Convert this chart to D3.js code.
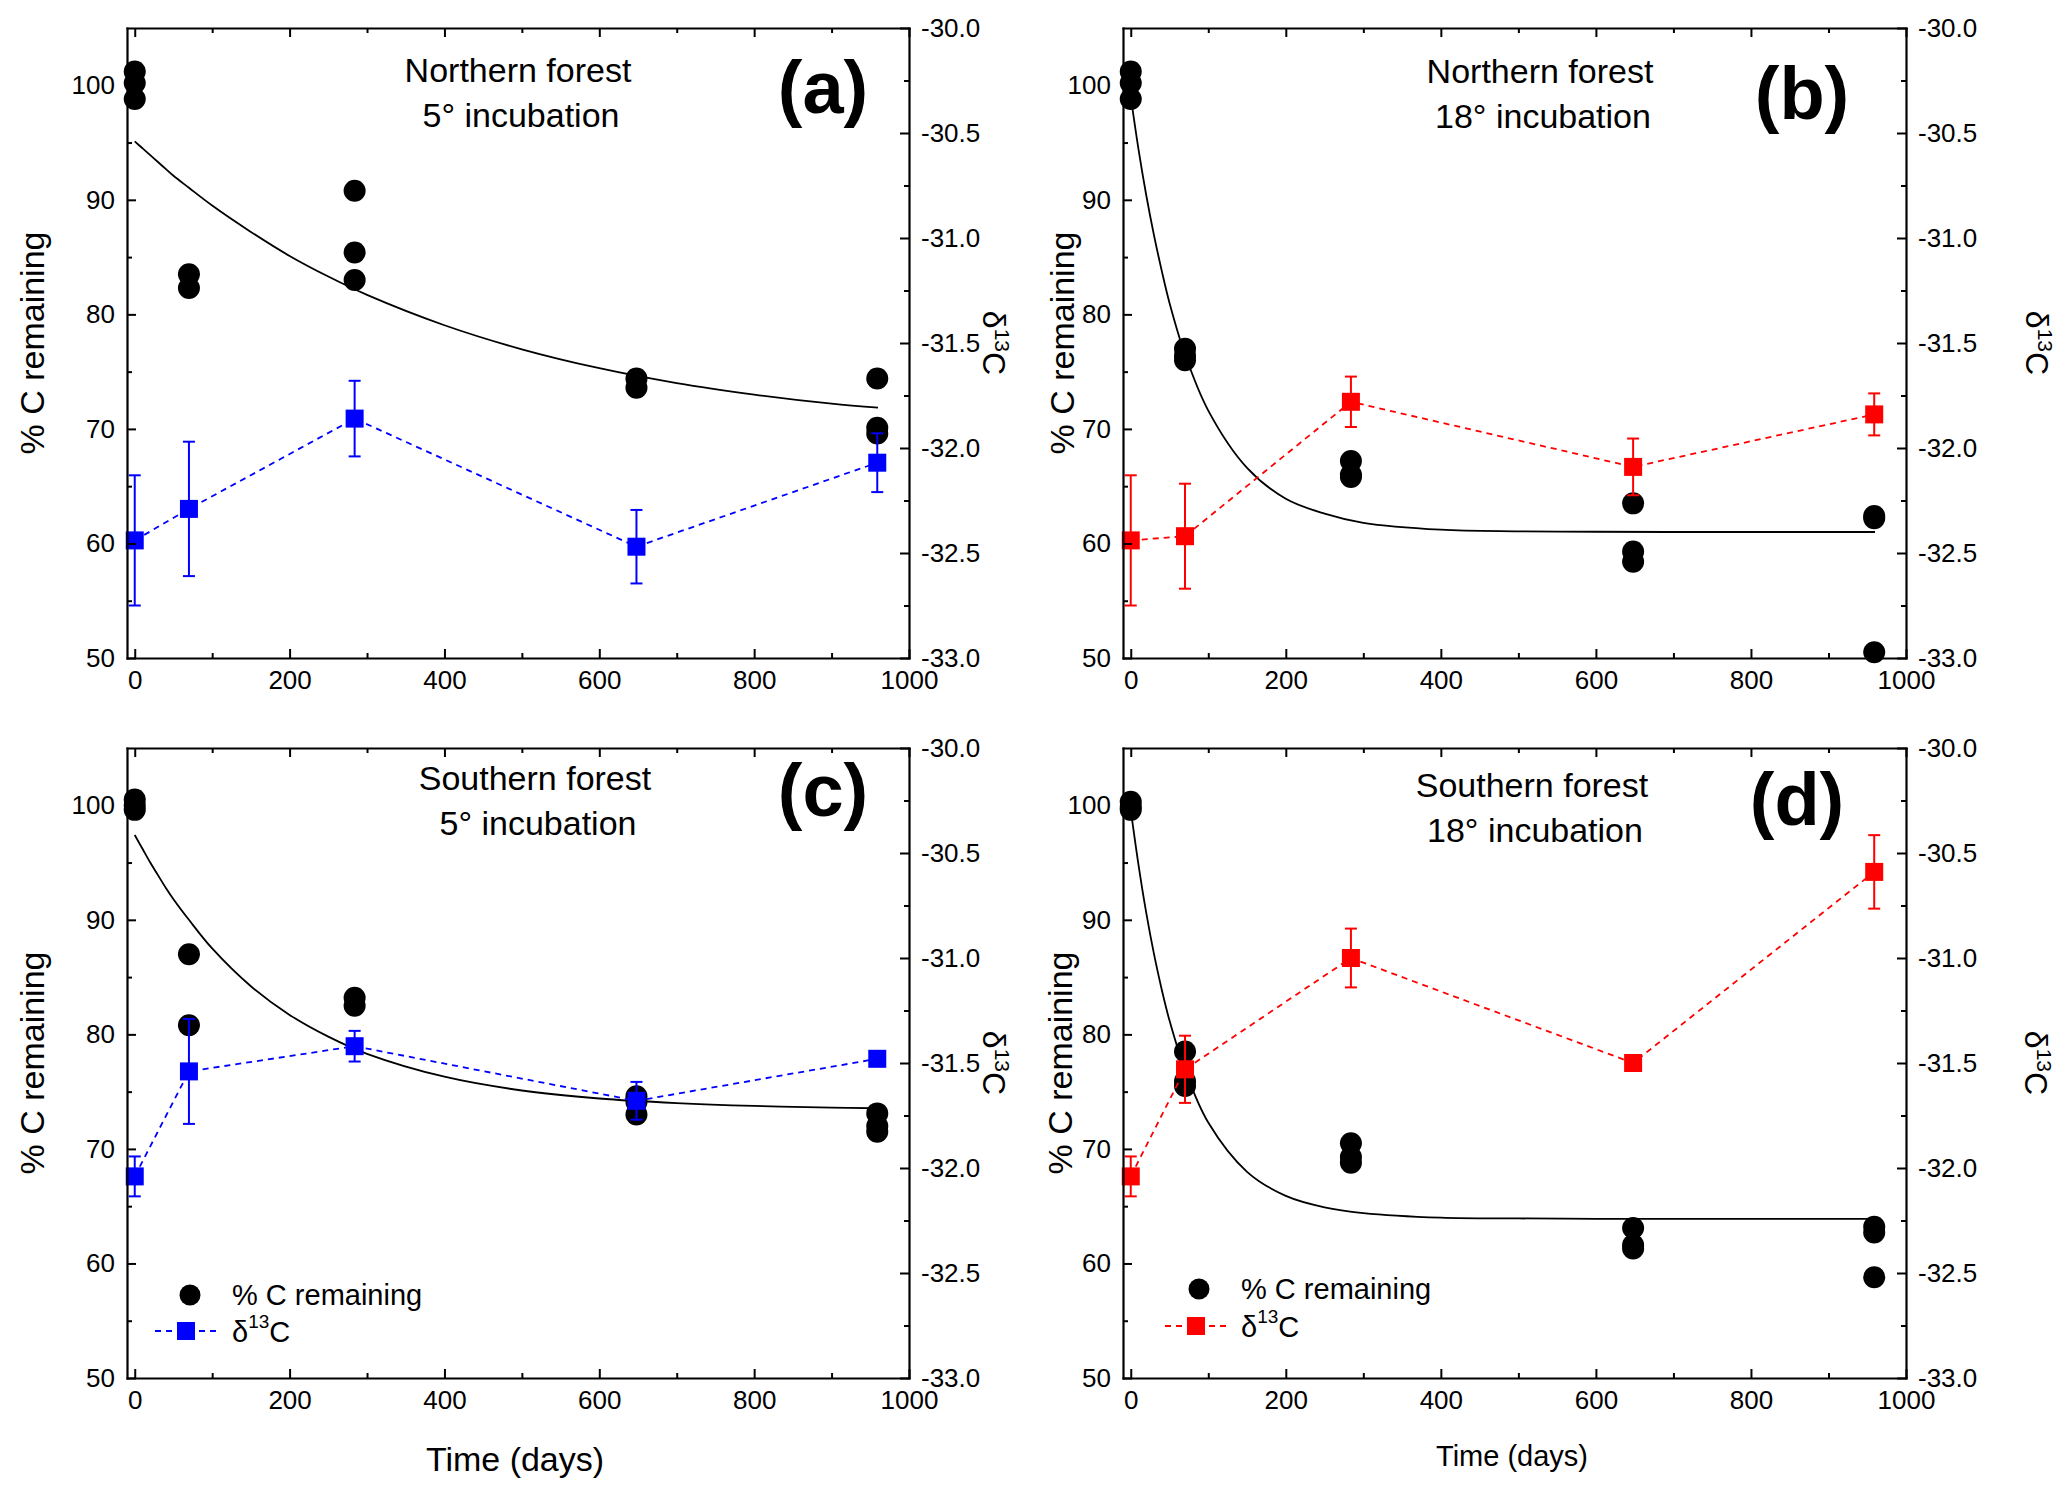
<!DOCTYPE html>
<html>
<head>
<meta charset="utf-8">
<script src="https://cdn.jsdelivr.net/npm/d3@7"></script>
<style>
  body { margin: 0; background: #fff; }
  svg { display: block; font-family: Arial, "Liberation Sans", sans-serif; }
</style>
</head>
<body>
<div id="chart"></div>
<script>
// sampling days of the incubation
const sampleDays = [0, 70, 284, 648, 959];

// % C remaining, replicate values per sampling day
const pctNorth5 = [[101.2, 100.2, 98.8], [83.5, 82.3], [90.8, 85.4, 83.0], [74.4, 73.6], [74.4, 70.1, 69.6]];
const pctNorth18 = [[101.2, 100.2, 98.8], [77.0, 76.4, 76.0], [67.2, 66.0, 65.8], [63.5, 59.3, 58.4], [62.4, 62.2, 50.5]];
const pctSouth5 = [[100.5, 100.0, 99.6], [87.0, 80.8], [83.2, 82.5], [74.6, 74.1, 73.0], [73.1, 72.0, 71.5]];
const pctSouth18 = [[100.3, 99.9, 99.6], [78.5, 75.9, 75.5], [70.5, 69.3, 68.8], [63.1, 61.6, 61.3], [63.2, 62.7, 58.8]];

// delta 13C means and errors
const d13North5 = [-32.44, -32.29, -31.86, -32.47, -32.07];
const d13North5Err = [0.31, 0.32, 0.18, 0.175, 0.14];
const d13North18 = [-32.44, -32.42, -31.78, -32.09, -31.84];
const d13North18Err = [0.31, 0.25, 0.12, 0.135, 0.10];
const d13South5 = [-32.04, -31.54, -31.42, -31.68, -31.48];
const d13South5Err = [0.095, 0.25, 0.073, 0.09, 0.03];
const d13South18 = [-32.04, -31.53, -31.00, -31.50, -30.59];
const d13South18Err = [0.095, 0.16, 0.14, 0.03, 0.175];

// fitted decay curves
const fitDays = [0, 10, 20, 30, 40, 50, 70, 100, 150, 200, 250, 300, 400, 500, 600, 700, 800, 900, 960];
const fitNorth5 = [95.1, 94.5, 93.9, 93.3, 92.7, 92.1, 91.05, 89.5, 87.2, 85.1, 83.3, 81.7, 79.05, 76.95, 75.3, 74.0, 73.0, 72.2, 71.85];
const fitNorth18 = [99.0, 94.4, 90.4, 86.9, 83.8, 81.0, 76.5, 71.6, 66.6, 63.9, 62.6, 61.8, 61.2, 61.06, 61.02, 61.0, 61.0, 61.0, 61.0];
const fitSouth5 = [97.4, 96.2, 95.0, 93.9, 92.8, 91.8, 90.0, 87.5, 84.2, 81.7, 79.8, 78.3, 76.3, 75.1, 74.4, 74.0, 73.75, 73.6, 73.55];
const fitSouth18 = [99.6, 94.8, 90.6, 87.0, 83.9, 81.2, 76.9, 72.3, 68.0, 65.9, 64.9, 64.4, 64.0, 63.93, 63.9, 63.9, 63.9, 63.9, 63.9];

// axes
const xTicks = [0, 200, 400, 600, 800, 1000];
const xMinorTicks = [100, 300, 500, 700, 900];
const yTicks = [50, 60, 70, 80, 90, 100];
const yMinorTicks = [55, 65, 75, 85, 95];
const dTicks = [-33, -32.5, -32, -31.5, -31, -30.5, -30];
const dMinorTicks = [-32.75, -32.25, -31.75, -31.25, -30.75, -30.25];

const panelLetters = ["(a)", "(b)", "(c)", "(d)"];
const titleLine1 = ["Northern forest", "Northern forest", "Southern forest", "Southern forest"];
const titleTemp = ["5", "18", "5", "18"];

const W = 2067, H = 1492;
const svg = d3.select("#chart").append("svg")
  .attr("width", W).attr("height", H)
  .attr("viewBox", `0 0 ${W} ${H}`);
svg.append("rect").attr("width", W).attr("height", H).attr("fill", "#fff");

const panels = [
  { pct: pctNorth5, d13: d13North5, err: d13North5Err, fit: fitNorth5, color: "#0000ff",
    x0: 127, x1: 909, y0: 28, y1: 658, tx: 518, ty: 82, letX: 823, letY: 113,
    ylabX: 32, dlabX: 994 },
  { pct: pctNorth18, d13: d13North18, err: d13North18Err, fit: fitNorth18, color: "#ff0000",
    x0: 1123, x1: 1906, y0: 28, y1: 658, tx: 1540, ty: 83, letX: 1802, letY: 119,
    ylabX: 1062, dlabX: 2037 },
  { pct: pctSouth5, d13: d13South5, err: d13South5Err, fit: fitSouth5, color: "#0000ff",
    x0: 127, x1: 909, y0: 748, y1: 1378, tx: 535, ty: 790, letX: 823, letY: 816,
    ylabX: 32, dlabX: 994,
    xlab: { x: 515, y: 1471, size: 34 },
    legend: { cx: 190, cy: 1295, sy: 1331, tx: 232, lx0: 155, lx1: 217 } },
  { pct: pctSouth18, d13: d13South18, err: d13South18Err, fit: fitSouth18, color: "#ff0000",
    x0: 1123, x1: 1906, y0: 748, y1: 1378, tx: 1532, ty: 797, letX: 1797, letY: 825,
    ylabX: 1060, dlabX: 2036,
    xlab: { x: 1512, y: 1466, size: 29 },
    legend: { cx: 1199, cy: 1289, sy: 1326, tx: 1241, lx0: 1165, lx1: 1227 } }
];

function styleAxis(g, fontSize) {
  g.attr("font-family", null).attr("font-size", fontSize);
  g.selectAll("line").attr("stroke", "#000").attr("stroke-width", 2);
  g.selectAll(".domain").attr("stroke", "#000").attr("stroke-width", 2.2).attr("stroke-linecap", "square");
  g.selectAll("text").attr("fill", "#000");
}

function drawPanel(p, i) {
  const g = svg.append("g");
  const x = d3.scaleLinear().domain([-10, 1000]).range([p.x0, p.x1]);
  const y = d3.scaleLinear().domain([50, 105]).range([p.y1, p.y0]);
  const yr = d3.scaleLinear().domain([-33, -30]).range([p.y1, p.y0]);

  // fitted curve
  g.append("path")
    .datum(d3.zip(fitDays, p.fit))
    .attr("fill", "none")
    .attr("stroke", "#000")
    .attr("stroke-width", 1.8)
    .attr("d", d3.line().x(d => x(d[0])).y(d => y(d[1])).curve(d3.curveCatmullRom.alpha(0.5)));

  // % C remaining points
  const pts = p.pct.flatMap((vals, k) => vals.map(v => [sampleDays[k], v]));
  g.append("g").selectAll("circle")
    .data(pts)
    .join("circle")
    .attr("cx", d => x(d[0]))
    .attr("cy", d => y(d[1]))
    .attr("r", 11)
    .attr("fill", "#000");

  // delta 13C series
  const dd = sampleDays.map((t, k) => ({ t, v: p.d13[k], e: p.err[k] }));
  g.append("path")
    .datum(dd)
    .attr("fill", "none")
    .attr("stroke", p.color)
    .attr("stroke-width", 1.8)
    .attr("stroke-dasharray", "6,5")
    .attr("d", d3.line().x(d => x(d.t)).y(d => yr(d.v)));

  const eb = g.append("g").attr("stroke", p.color).attr("stroke-width", 2);
  eb.selectAll("line.v").data(dd).join("line").attr("class", "v")
    .attr("x1", d => x(d.t)).attr("x2", d => x(d.t))
    .attr("y1", d => yr(d.v - d.e)).attr("y2", d => yr(d.v + d.e));
  eb.selectAll("line.t").data(dd).join("line").attr("class", "t")
    .attr("x1", d => x(d.t) - 6).attr("x2", d => x(d.t) + 6)
    .attr("y1", d => yr(d.v + d.e)).attr("y2", d => yr(d.v + d.e));
  eb.selectAll("line.b").data(dd).join("line").attr("class", "b")
    .attr("x1", d => x(d.t) - 6).attr("x2", d => x(d.t) + 6)
    .attr("y1", d => yr(d.v - d.e)).attr("y2", d => yr(d.v - d.e));

  g.append("g").selectAll("rect")
    .data(dd)
    .join("rect")
    .attr("x", d => x(d.t) - 9)
    .attr("y", d => yr(d.v) - 9)
    .attr("width", 18).attr("height", 18)
    .attr("fill", p.color);

  // axes, ticks pointing inward
  g.append("g").attr("transform", `translate(0,${p.y1})`)
    .call(d3.axisBottom(x).tickValues(xTicks).tickSize(-9).tickSizeOuter(0).tickPadding(13).tickFormat(d3.format("d")))
    .call(a => styleAxis(a, 26));
  g.append("g").attr("transform", `translate(0,${p.y1})`)
    .call(d3.axisBottom(x).tickValues(xMinorTicks).tickSize(-5).tickSizeOuter(0).tickFormat(""))
    .call(a => { styleAxis(a, 26); a.select(".domain").remove(); });
  g.append("g").attr("transform", `translate(0,${p.y0})`)
    .call(d3.axisTop(x).tickValues(xTicks).tickSize(-9).tickSizeOuter(0).tickFormat(""))
    .call(a => styleAxis(a, 26));
  g.append("g").attr("transform", `translate(0,${p.y0})`)
    .call(d3.axisTop(x).tickValues(xMinorTicks).tickSize(-5).tickSizeOuter(0).tickFormat(""))
    .call(a => { styleAxis(a, 26); a.select(".domain").remove(); });

  g.append("g").attr("transform", `translate(${p.x0},0)`)
    .call(d3.axisLeft(y).tickValues(yTicks).tickSize(-9).tickSizeOuter(0).tickPadding(12))
    .call(a => styleAxis(a, 26));
  g.append("g").attr("transform", `translate(${p.x0},0)`)
    .call(d3.axisLeft(y).tickValues(yMinorTicks).tickSize(-5).tickSizeOuter(0).tickFormat(""))
    .call(a => { styleAxis(a, 26); a.select(".domain").remove(); });

  g.append("g").attr("transform", `translate(${p.x1},0)`)
    .call(d3.axisRight(yr).tickValues(dTicks).tickSize(-9).tickSizeOuter(0).tickPadding(12).tickFormat(d => d.toFixed(1)))
    .call(a => styleAxis(a, 26));
  g.append("g").attr("transform", `translate(${p.x1},0)`)
    .call(d3.axisRight(yr).tickValues(dMinorTicks).tickSize(-5).tickSizeOuter(0).tickFormat(""))
    .call(a => { styleAxis(a, 26); a.select(".domain").remove(); });

  // title
  const title = g.append("text")
    .attr("text-anchor", "middle")
    .attr("font-size", 34)
    .attr("fill", "#000");
  title.append("tspan").attr("x", p.tx).attr("y", p.ty).text(titleLine1[i]);
  const l2 = title.append("tspan").attr("x", p.tx + 3).attr("y", p.ty + 45);
  l2.append("tspan").text(titleTemp[i] + "°");
  l2.append("tspan").text(" incubation");

  // panel letter
  g.append("text")
    .attr("x", p.letX).attr("y", p.letY)
    .attr("text-anchor", "middle")
    .attr("font-size", 74)
    .attr("font-weight", "bold")
    .text(panelLetters[i]);

  // left axis label
  g.append("text")
    .attr("transform", `translate(${p.ylabX},${(p.y0 + p.y1) / 2}) rotate(-90)`)
    .attr("text-anchor", "middle")
    .attr("dy", "0.35em")
    .attr("font-size", 34)
    .text("% C remaining");

  // right axis label
  const dl = g.append("text")
    .attr("transform", `translate(${p.dlabX},${(p.y0 + p.y1) / 2}) rotate(90)`)
    .attr("text-anchor", "middle")
    .attr("dy", "0.35em")
    .attr("font-size", 32);
  dl.append("tspan").text("δ");
  dl.append("tspan").attr("font-size", 21).attr("dy", "-0.6em").text("13");
  dl.append("tspan").attr("dy", "0.4em").text("C");

  if (p.xlab) {
    g.append("text")
      .attr("x", p.xlab.x).attr("y", p.xlab.y)
      .attr("text-anchor", "middle")
      .attr("font-size", p.xlab.size)
      .text("Time (days)");
  }

  if (p.legend) {
    const L = p.legend;
    g.append("circle").attr("cx", L.cx).attr("cy", L.cy).attr("r", 10.5).attr("fill", "#000");
    g.append("text").attr("x", L.tx).attr("y", L.cy + 10).attr("font-size", 29).text("% C remaining");
    g.append("line")
      .attr("x1", L.lx0).attr("x2", L.lx1).attr("y1", L.sy).attr("y2", L.sy)
      .attr("stroke", p.color).attr("stroke-width", 1.8).attr("stroke-dasharray", "6,5");
    g.append("rect")
      .attr("x", (L.lx0 + L.lx1) / 2 - 9).attr("y", L.sy - 9)
      .attr("width", 18).attr("height", 18).attr("fill", p.color);
    const lt = g.append("text").attr("x", L.tx).attr("y", L.sy + 11).attr("font-size", 29);
    lt.append("tspan").text("δ");
    lt.append("tspan").attr("font-size", 19).attr("dy", "-0.75em").text("13");
    lt.append("tspan").attr("dy", "0.5em").text("C");
  }
}

panels.forEach(drawPanel);
</script>
</body>
</html>
